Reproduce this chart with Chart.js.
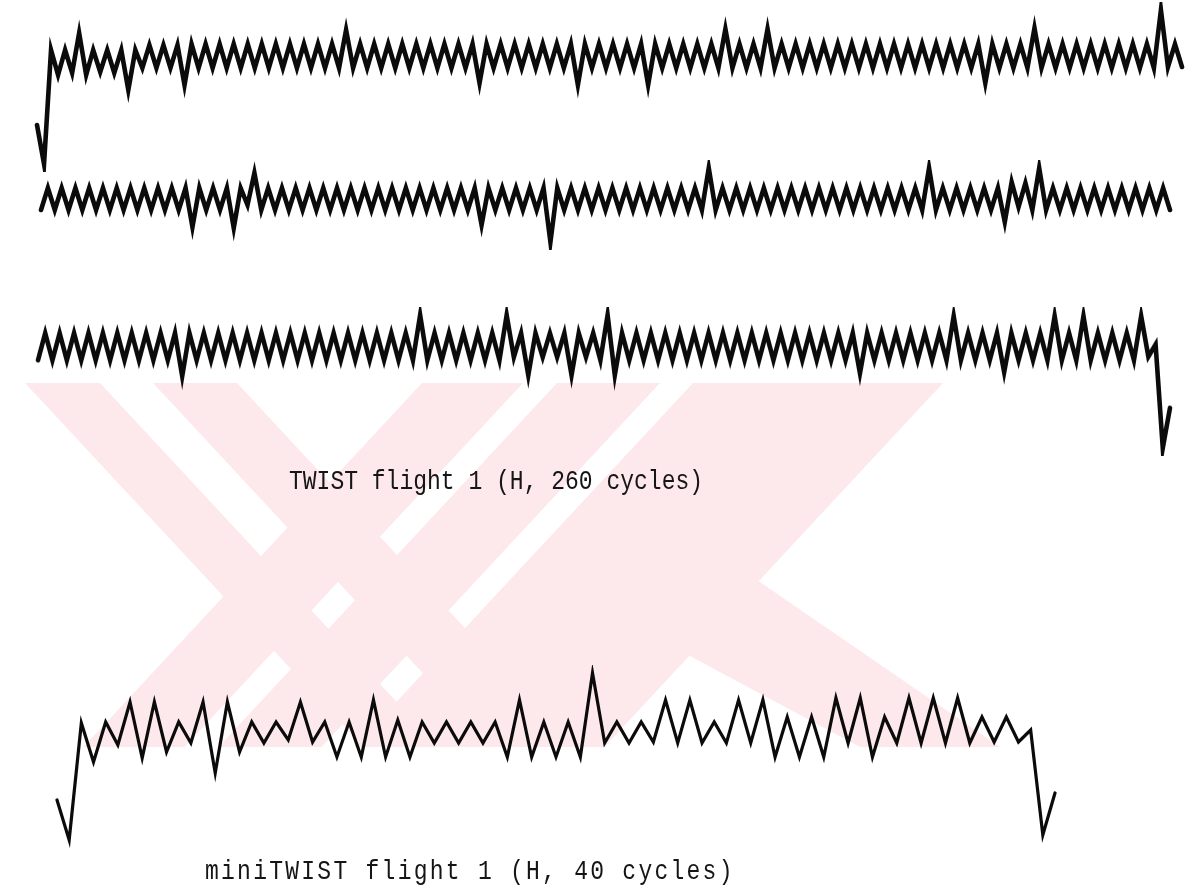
<!DOCTYPE html>
<html>
<head>
<meta charset="utf-8">
<script src="https://cdn.jsdelivr.net/npm/chart.js@4.4.0/dist/chart.umd.min.js"></script>
<style>
  html, body { margin: 0; padding: 0; background: #ffffff; }
  body { width: 1195px; height: 889px; position: relative; overflow: hidden; }
  canvas.wave { position: absolute; }
  #mark { position: absolute; left: 0; top: 0; }
  .caption {
    position: absolute;
    font-family: "Liberation Mono", "DejaVu Sans Mono", monospace;
    font-size: 23px;
    color: #151515;
    white-space: pre;
    transform-origin: left top;
    transform: scaleY(1.2);
  }
</style>
</head>
<body>
<canvas id="mark" width="1195" height="889"></canvas>
<canvas id="twist1" class="wave"></canvas>
<canvas id="twist2" class="wave"></canvas>
<canvas id="twist3" class="wave"></canvas>
<canvas id="mini" class="wave"></canvas>
<div class="caption" id="capTwist" style="left:289px; top:466px;">TWIST flight 1 (H, 260 cycles)</div>
<div class="caption" id="capMini" style="left:205px; top:856px; letter-spacing:2.25px;">miniTWIST flight 1 (H, 40 cycles)</div>

<script>
// TWIST flight 1 (H, 260 cycles): load turning points, printed over three lines.
// Levels are relative to the mean load of each line (upwards positive).
const twistLine1 = [
  -17.25, -27,
  1.5, -4.75, 1.5, -4.25, 5.75, -4.75, 1.5, -4, 1.5, -4.25, 1.5, -8.5,
  1.5, -3, 2.75, -3, 2.75, -3, 2.75, -7.25,
  3, -3, 3, -3, 3, -3, 3, -3, 3, -3, 3, -3, 3, -3, 3, -3, 3, -3, 3, -3, 3, -3,
  6.5, -3, 3, -3, 3, -3, 3, -3, 3, -3,
  3, -3, 3, -3, 3, -3, 3, -3, 3, -6.75,
  3, -3, 3, -3, 3, -3, 3, -3, 3, -3, 3, -3, 3, -7.25,
  3, -3, 3, -3, 3, -3, 3, -3, 3, -7.25,
  3, -3, 3, -3, 3, -3, 3, -3, 3, -3,
  6.75, -3, 3, -3, 3, -3, 6.75, -3,
  3, -3, 3, -3, 3, -3, 3, -3, 3, -3, 3, -3, 3, -3, 3, -3, 3, -3, 3, -3,
  3, -3, 3, -3, 3, -3, 3, -3, 3, -6.75,
  3, -3, 3, -3, 3, -3, 7, -3,
  3, -3, 3, -3, 3, -3, 3, -3, 3, -3, 3, -3, 3, -3, 3, -3,
  11.5, -2.75, 3, -2.75
];

const twistLine2 = [
  -2.75,
  2.75, -2.75, 2.75, -2.75, 2.75, -2.75, 2.75, -2.75, 2.75, -2.75,
  2.75, -2.75, 2.75, -2.75, 2.75, -2.75, 2.75, -2.75, 2.75, -2.75,
  2.75, -7, 2.75, -2.75, 2.75, -2.75, 2.75, -7.25, 2.75, -1.5,
  6.5, -2.75,
  2.75, -2.75, 2.75, -2.75, 2.75, -2.75, 2.75, -2.75, 2.75, -2.75, 2.75, -2.75,
  2.75, -2.75, 2.75, -2.75, 2.75, -2.75, 2.75, -2.75, 2.75, -2.75, 2.75, -2.75,
  2.75, -2.75, 2.75, -2.75, 2.75, -2.75, 2.75, -6.5,
  2.75, -2.75, 2.75, -2.75, 2.75, -2.75, 2.75, -2.75, 2.75, -10.75,
  2.75, -2.75, 2.75, -2.75, 2.75, -2.75, 2.75, -2.75, 2.75, -2.75, 2.75, -2.75,
  2.75, -2.75, 2.75, -2.75, 2.75, -2.75, 2.75, -2.75, 2.75, -2.75,
  7.75, -2.75,
  2.75, -2.75, 2.75, -2.75, 2.75, -2.75, 2.75, -2.75, 2.75, -2.75, 2.75, -2.75,
  2.75, -2.75, 2.75, -2.75, 2.75, -2.75, 2.75, -2.75, 2.75, -2.75,
  2.75, -2.75, 2.75, -2.75, 2.75, -2.75, 2.75, -2.75,
  7.75, -2.75,
  2.75, -2.75, 2.75, -2.75, 2.75, -2.75, 2.75, -2.75,
  2.75, -5.75, 4.25, -2, 4, -2.75,
  7.75, -2.75,
  2.75, -2.75, 2.75, -2.75, 2.75, -2.75, 2.75, -2.75, 2.75, -2.75,
  2.75, -2.75, 2.75, -2.75, 2.75, -2.75, 2.75, -2.75
];

const twistLine3 = [
  -3.5,
  3.25, -3.5, 3.25, -3.5, 3.25, -3.5, 3.25, -3.5, 3.25, -3.5,
  3.25, -3.5, 3.25, -3.5, 3.25, -3.5, 3.25, -3.5,
  3.25, -7.5,
  3.25, -3.5, 3.25, -3.5, 3.25, -3.5, 3.25, -3.5, 3.25, -3.5, 3.25, -3.5, 3.25, -3.5, 3.25, -3.5,
  3.25, -3.5, 3.25, -3.5, 3.25, -3.5, 3.25, -3.5, 3.25, -3.5, 3.25, -3.5, 3.25, -3.5, 3.25, -3.5,
  7.75, -3.5,
  3.25, -3.5, 3.25, -3.5, 3.25, -3.5, 3.25, -3.5, 3.25, -3.5,
  7.75, -2.75, 3.25, -7.25, 3.25, -2.75, 3.25, -2.75, 3.25, -7.25,
  3.25, -2.75, 3.25, -3.5, 7.75, -7.25,
  3.25, -3.5, 3.25, -3.5, 3.25, -3.5, 3.25, -3.5, 3.25, -3.5, 3.25, -3.5, 3.25, -3.5,
  3.25, -3.5, 3.25, -3.5, 3.25, -3.5, 3.25, -3.5, 3.25, -3.5, 3.25, -3.5,
  3.25, -3.5, 3.25, -3.5, 3.25, -3.5, 3.25, -6.75,
  3.25, -3.5, 3.25, -3.5, 3.25, -3.5, 3.25, -3.5, 3.25, -3.5, 3.25, -3.5,
  7.5, -3.5,
  3.25, -3.5, 3.25, -3.5, 3.25, -6.5,
  3.25, -3.5, 3.25, -3.5, 3.25, -3.5,
  7.5, -3.5, 3.25, -3.5, 7.5, -3.5,
  3.25, -3.5, 3.25, -3.5, 3.25, -3.5,
  7.5, -2.6, 0.4, -25.4, -15.4
];

// miniTWIST flight 1 (H, 40 cycles)
const miniTwist = [
  -17.5, -27.5,
  1.75, -8, 2, -3.75, 7, -7, 7, -5.5, 2, -3.25, 7, -10.75, 7, -5.5, 2, -3.25, 2, -2.5,
  7, -3, 2, -6.75, 2, -6.75, 7.5, -6.75, 2.5, -6.75, 2, -3.25, 2, -3.25, 2, -3.25,
  2, -6.75, 7.5, -6.75, 2, -6.75, 2, -6.75,
  14.25, -3.25, 2, -3.25, 2, -3, 7.5, -3.25, 7.5, -3.25, 2, -3.25, 7.5, -3.25, 7.5, -6.75,
  3.25, -6.75, 3.25, -6.75, 8, -3.25, 8, -6.75, 3.25, -3.25, 8, -3.25, 8, -3.25, 8, -3.25,
  3.25, -3, 3.25, -3, 0,
  -26.25, -15.75
];

// Placement of each trace on the page: first/last turning point (x), mean level (y),
// vertical scale in px per load unit and pen width.
const layouts = {
  twist1: { x0: 37, x1: 1182, yc: 56,  unit: 4, pen: 4.6 },
  twist2: { x0: 41, x1: 1170, yc: 199, unit: 4, pen: 4.6 },
  twist3: { x0: 38, x1: 1170, yc: 346, unit: 4, pen: 4.6 },
  mini:   { x0: 57, x1: 1055, yc: 730, unit: 4, pen: 3.2 }
};

function drawTrace(id, values) {
  const L = layouts[id];
  const pad = 8;
  const vmax = Math.max(...values);
  const vmin = Math.min(...values);
  const canvas = document.getElementById(id);
  const w = (L.x1 - L.x0) + 2 * pad;
  const h = (vmax - vmin) * L.unit + 2 * pad;
  canvas.width = w;
  canvas.height = h;
  canvas.style.width = w + 'px';
  canvas.style.height = h + 'px';
  canvas.style.left = (L.x0 - pad) + 'px';
  canvas.style.top = (L.yc - vmax * L.unit - pad) + 'px';
  return new Chart(canvas, {
    type: 'line',
    data: {
      labels: values.map((_, i) => i),
      datasets: [{
        data: values,
        borderColor: '#0b0b0b',
        borderWidth: L.pen,
        pointRadius: 0,
        tension: 0,
        fill: false,
        clip: false,
        borderJoinStyle: 'miter',
        borderCapStyle: 'round'
      }]
    },
    options: {
      responsive: false,
      animation: false,
      events: [],
      layout: { padding: pad },
      plugins: { legend: { display: false }, tooltip: { enabled: false } },
      scales: {
        x: { display: false, offset: false },
        y: { display: false, min: vmin, max: vmax }
      }
    }
  });
}

// Faint striped emblem behind the lower half of the page: two families of
// slanted bands crossing like an X, cut off at a top and a bottom edge,
// plus the lower right arm.
(function drawEmblem() {
  const ctx = document.getElementById('mark').getContext('2d');
  const top = 383, bottom = 747, slant = 0.93;
  const down = [[25, 100], [153, 237]];                       // "\" bands, x at top edge
  const up = [[422, 523], [557, 660], [693, 943]];              // "/" bands, x at top edge
  const h = bottom - top;
  ctx.fillStyle = '#fde8ec';
  const poly = pts => {
    ctx.beginPath();
    ctx.moveTo(pts[0][0], pts[0][1]);
    for (let i = 1; i < pts.length; i++) ctx.lineTo(pts[i][0], pts[i][1]);
    ctx.closePath();
    ctx.fill();
  };
  down.forEach(([a, b]) => poly([[a, top], [b, top], [b + slant * h, bottom], [a + slant * h, bottom]]));
  up.forEach(([a, b]) => poly([[a, top], [b, top], [b - slant * h, bottom], [a - slant * h, bottom]]));
  poly([[757, 580], [1000, bottom], [860, bottom], [688, 655]]);
})();

drawTrace('twist1', twistLine1);
drawTrace('twist2', twistLine2);
drawTrace('twist3', twistLine3);
drawTrace('mini', miniTwist);
</script>
</body>
</html>
